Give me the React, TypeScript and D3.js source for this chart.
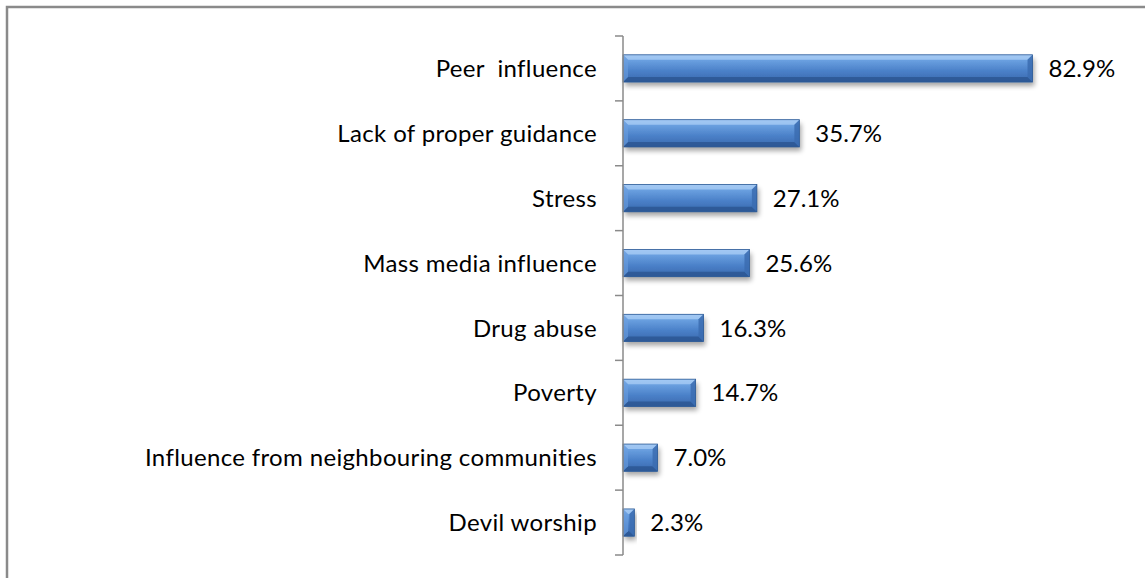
import React from "react";
import * as d3 from "d3";

const categories = [
  "Peer  influence",
  "Lack of proper guidance",
  "Stress",
  "Mass media influence",
  "Drug abuse",
  "Poverty",
  "Influence from neighbouring communities",
  "Devil worship",
];
const values = [82.9, 35.7, 27.1, 25.6, 16.3, 14.7, 7.0, 2.3];

const W = 1145;
const H = 578;
const FONT = "Lato, 'Open Sans', sans-serif";
const FS = 24;

export default function App() {
  const x = d3.scaleLinear().domain([0, 100]).range([623, 1117]);
  const y = d3.scaleBand<string>().domain(categories).range([36, 555]).paddingInner(0).paddingOuter(0);
  const bw = y.bandwidth();
  const bh = bw * 0.42;
  const bev = 5;
  const ticks = d3.range(categories.length + 1).map((i) => 36 + i * bw);

  return (
    <svg width={W} height={H} style={{ position: "absolute", left: 0, top: 0 }}>
      <defs>
        <linearGradient id="bg" x1="0" y1="0" x2="0" y2="1">
          <stop offset="0" stopColor="#8db8ec" />
          <stop offset="0.2" stopColor="#6aa0e0" />
          <stop offset="0.6" stopColor="#4a80c8" />
          <stop offset="1" stopColor="#3968ad" />
        </linearGradient>
        <filter id="sh" x="-10%" y="-30%" width="130%" height="190%">
          <feGaussianBlur in="SourceAlpha" stdDeviation="2.5" />
          <feOffset dx="2" dy="4" result="b" />
          <feComponentTransfer>
            <feFuncA type="linear" slope="0.35" />
          </feComponentTransfer>
          <feMerge>
            <feMergeNode />
            <feMergeNode in="SourceGraphic" />
          </feMerge>
        </filter>
      </defs>
      <rect x={0} y={0} width={W} height={H} fill="#fff" />
      <path d={`M7,${H} L7,7 L${W},7`} fill="none" stroke="#8a8a8a" strokeWidth={2.5} />
      {categories.map((c, i) => {
        const x0 = x(0);
        const x1 = x(values[i]);
        const yc = (y(c) as number) + bw / 2;
        const y0 = yc - bh / 2;
        const y1 = yc + bh / 2;
        const w = x1 - x0;
        const b = Math.min(bev, w / 2, bh / 2);
        return (
          <g key={c}>
            <g filter="url(#sh)">
              <rect x={x0} y={y0} width={w} height={bh} fill="url(#bg)" />
            </g>
            <polygon points={`${x0},${y0} ${x1},${y0} ${x1 - b},${y0 + b} ${x0 + b},${y0 + b}`} fill="#a9cdf5" opacity={0.75} />
            <polygon points={`${x0},${y1} ${x1},${y1} ${x1 - b},${y1 - b} ${x0 + b},${y1 - b}`} fill="#2a5591" opacity={0.8} />
            <polygon points={`${x1},${y0} ${x1},${y1} ${x1 - b},${y1 - b} ${x1 - b},${y0 + b}`} fill="#3b6cb0" opacity={0.85} />
            <polygon points={`${x0},${y0} ${x0},${y1} ${x0 + b},${y1 - b} ${x0 + b},${y0 + b}`} fill="#6b9ee0" opacity={0.6} />
            <rect x={x0} y={y0} width={w} height={bh} fill="none" stroke="#2c5a96" strokeWidth={0.8} />
            <text x={x1 + 16} y={yc} dy="0.36em" fontFamily={FONT} fontSize={FS} fill="#000">
              {values[i].toFixed(1)}%
            </text>
            <text x={597} y={yc} dy="0.36em" textAnchor="end" fontFamily={FONT} fontSize={FS} letterSpacing={0.35} fill="#000" style={{ whiteSpace: "pre" }}>
              {c}
            </text>
          </g>
        );
      })}
      <line x1={623} x2={623} y1={36} y2={555} stroke="#8a8a8a" strokeWidth={1.5} />
      {ticks.map((t, i) => (
        <line key={i} x1={615} x2={623} y1={t} y2={t} stroke="#8a8a8a" strokeWidth={1.5} />
      ))}
    </svg>
  );
}
